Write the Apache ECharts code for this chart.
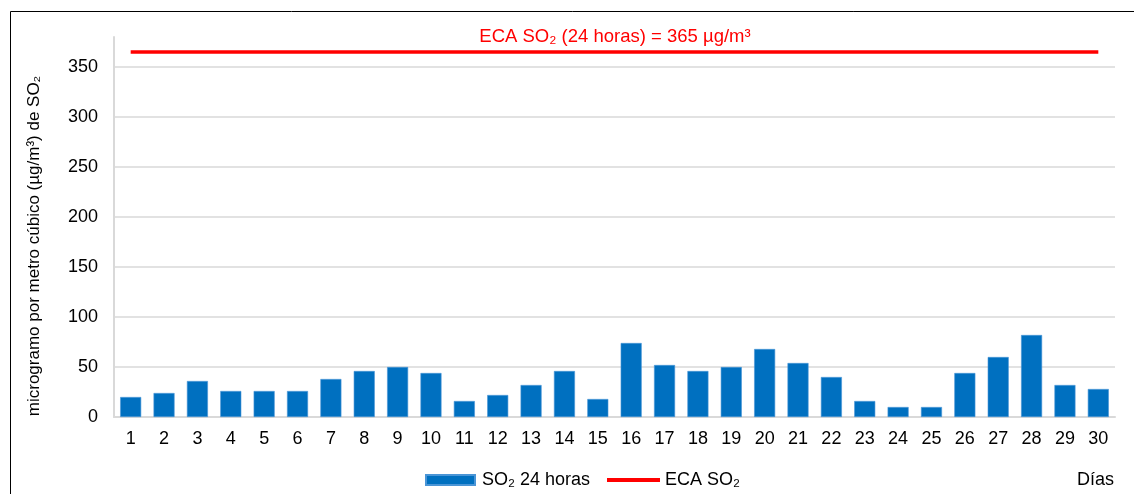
<!DOCTYPE html>
<html>
<head>
<meta charset="utf-8">
<script src="https://cdn.jsdelivr.net/npm/echarts@6/dist/echarts.min.js"></script>
<style>html,body{margin:0;padding:0;background:#fff;}#c{width:1134px;height:494px;}</style>
</head>
<body>
<div id="c"></div>
<script>
const days = ['1','2','3','4','5','6','7','8','9','10','11','12','13','14','15','16','17','18','19','20','21','22','23','24','25','26','27','28','29','30'];
const so2Values = [20,24,36,26,26,26,38,46,50,44,16,22,32,46,18,74,52,46,50,68,54,40,16,10,10,44,60,82,32,28];
const ecaLimit = 365;
const ecaValues = days.map(() => ecaLimit);
const yTicks = [0,50,100,150,200,250,300,350];

const chart = echarts.init(document.getElementById('c'), null, {renderer:'canvas'});
const font = 'Liberation Sans, Arial, sans-serif';
chart.setOption({
  animation:false,
  backgroundColor:'#fff',
  textStyle:{fontFamily:font},
  title:{
    text:'ECA SO₂ (24 horas) = 365 µg/m³',
    left:610, top:22, textAlign:'center',
    textStyle:{color:'#FF0000', fontSize:18.5, fontWeight:'normal', fontFamily:font}
  },
  grid:{left:114, right:19, top:37, bottom:77, containLabel:false},
  legend:[
    {
      left:425, top:471, padding:0,
      itemWidth:49, itemHeight:10,
      textStyle:{fontSize:18, color:'#000', fontFamily:font, padding:[0,0,0,2]},
      data:[{name:'SO₂ 24 horas', icon:'rect'}]
    },
    {
      left:607, top:471, padding:0,
      itemWidth:53, itemHeight:4,
      textStyle:{fontSize:18, color:'#000', fontFamily:font, padding:[0,0,0,0]},
      data:[{name:'ECA SO₂', icon:'rect'}]
    }
  ],
  xAxis:{
    type:'category', data:days, boundaryGap:true,
    axisLine:{show:true, lineStyle:{color:'#d9d9d9', width:2}},
    axisTick:{show:false},
    axisLabel:{color:'#000', fontSize:18, margin:13, fontFamily:font}
  },
  yAxis:{
    type:'value', min:0, max:380, interval:50,
    axisLine:{show:true, lineStyle:{color:'#d9d9d9', width:2}},
    axisTick:{show:false},
    axisLabel:{color:'#000', fontSize:18, margin:16, showMaxLabel:false, fontFamily:font,
      formatter:v => yTicks.includes(v) ? String(v) : ''},
    splitLine:{show:true, showMaxLine:false, lineStyle:{color:'#d9d9d9', width:1.5}}
  },
  series:[
    {name:'SO₂ 24 horas', type:'bar', data:so2Values, barCategoryGap:'37%',
     itemStyle:{color:'#0070C0', borderColor:'#4a95d6', borderWidth:0.6}},
    {name:'ECA SO₂', type:'line', data:ecaValues, symbol:'none',
     lineStyle:{color:'#FF0000', width:3.5}, itemStyle:{color:'#FF0000'}}
  ],
  graphic:[
    {type:'rect', shape:{x:10.5, y:11.5, width:1300, height:700}, style:{fill:null, stroke:'#000', lineWidth:1}, z:-1},
    {type:'text', x:34, y:246, rotation:Math.PI/2,
     style:{text:'microgramo por metro cúbico (µg/m³) de SO₂', fontSize:17, fontFamily:font, fill:'#000', align:'center', verticalAlign:'middle'}},
    {type:'text', x:1077, y:480,
     style:{text:'Días', fontSize:18, fontFamily:font, fill:'#000', align:'left', verticalAlign:'middle'}}
  ]
});
</script>
</body>
</html>
